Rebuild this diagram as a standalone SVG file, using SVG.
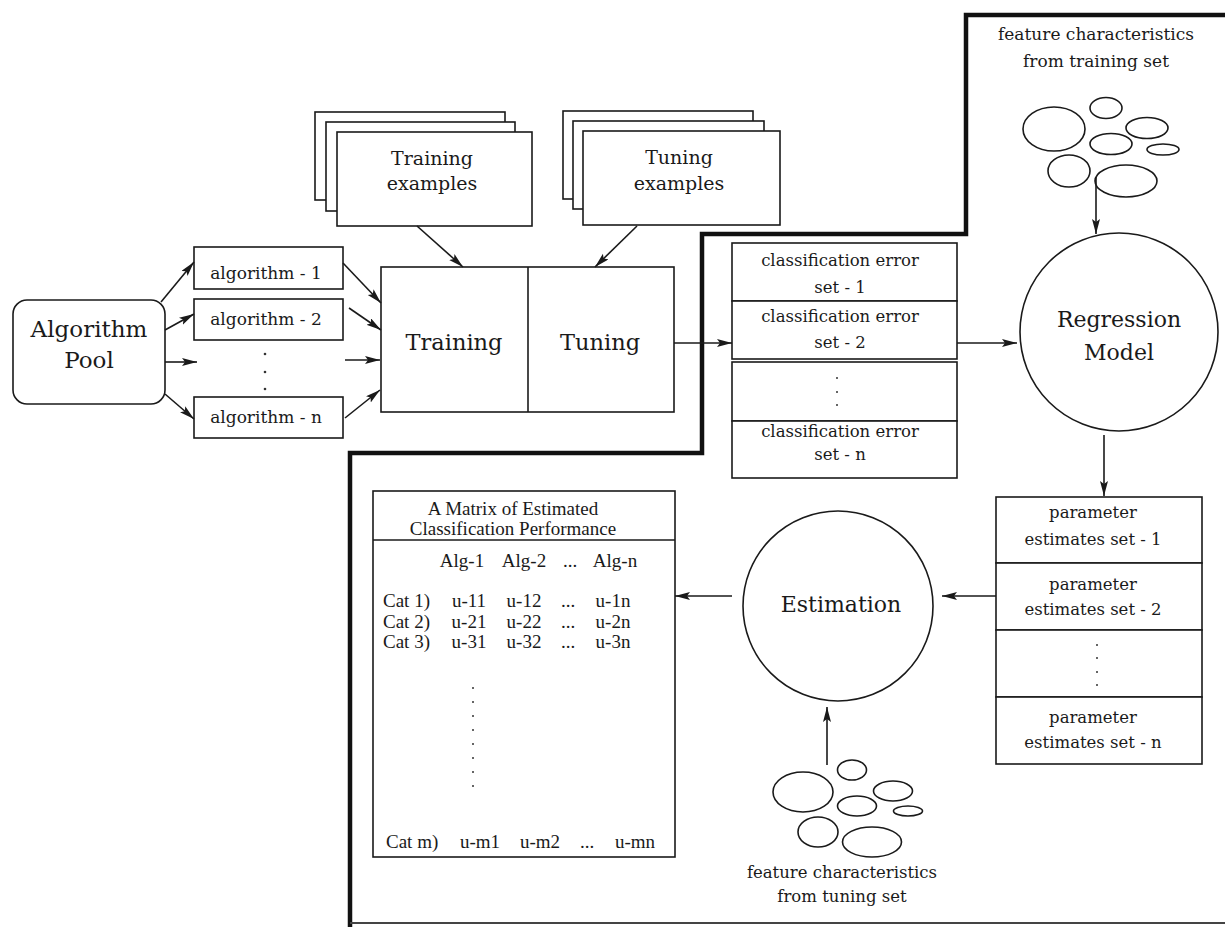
<svg xmlns="http://www.w3.org/2000/svg" width="1225" height="927" viewBox="0 0 1225 927">
<style>
.bx{fill:#fff;stroke:#1a1a1a;stroke-width:1.6}
.ln{fill:none;stroke:#1a1a1a;stroke-width:1.6}
.el{fill:none;stroke:#1a1a1a;stroke-width:1.6}
.cn{fill:none;stroke:#1a1a1a;stroke-width:1.6;marker-end:url(#ah)}
.thick{fill:none;stroke:#111;stroke-width:4.5;stroke-linejoin:miter}
.t{font-family:"DejaVu Serif","Liberation Serif",serif;fill:#1a1a1a;text-anchor:middle}
.m{font-family:"Liberation Serif","Times New Roman",serif;fill:#1a1a1a;font-size:19px}
.mc{text-anchor:middle}
.dot{fill:#333}
</style>
<defs>
<marker id="ah" markerUnits="userSpaceOnUse" markerWidth="16" markerHeight="10" refX="15" refY="4" orient="auto">
<path d="M0,0 L15,4 L0,8 L3,4 z" fill="#1a1a1a"/>
</marker>
</defs>
<rect width="1225" height="927" fill="#fff"/>

<g id="frame">
<path class="thick" d="M1225,15 H966 V234 H702 V453 H350 V927"/>
<line x1="350" y1="923" x2="1225" y2="923" stroke="#444" stroke-width="2"/>
</g>

<g id="algorithm-pool">
<rect class="bx" x="13" y="300" width="152" height="104" rx="14"/>
<text class="t" x="89" y="337" font-size="23">Algorithm</text>
<text class="t" x="89" y="368" font-size="23">Pool</text>
</g>

<g id="alg-1">
<rect class="bx" x="194" y="247" width="149" height="42"/>
<text class="t" x="266" y="279" font-size="17">algorithm - 1</text>
</g>
<g id="alg-2">
<rect class="bx" x="194" y="299" width="149" height="41"/>
<text class="t" x="266" y="325" font-size="17">algorithm - 2</text>
</g>
<g id="alg-dots">
<circle class="dot" cx="265" cy="354" r="1.3"/>
<circle class="dot" cx="265" cy="372" r="1.3"/>
<circle class="dot" cx="265" cy="389" r="1.3"/>
</g>
<g id="alg-n">
<rect class="bx" x="194" y="397" width="149" height="41"/>
<text class="t" x="266" y="423" font-size="17">algorithm - n</text>
</g>

<g id="training-examples">
<rect class="bx" x="315" y="112" width="190" height="88"/>
<rect class="bx" x="326" y="122" width="189" height="89"/>
<rect class="bx" x="337" y="132" width="195" height="94"/>
<text class="t" x="432" y="165" font-size="19">Training</text>
<text class="t" x="432" y="190" font-size="19">examples</text>
</g>

<g id="tuning-examples">
<rect class="bx" x="563" y="111" width="190" height="88"/>
<rect class="bx" x="573" y="121" width="191" height="88"/>
<rect class="bx" x="583" y="131" width="197" height="94"/>
<text class="t" x="679" y="164" font-size="19">Tuning</text>
<text class="t" x="679" y="190" font-size="19">examples</text>
</g>

<g id="training-tuning">
<rect class="bx" x="381" y="267" width="293" height="145"/>
<line class="ln" x1="528" y1="267" x2="528" y2="412"/>
<text class="t" x="454" y="350" font-size="22.5">Training</text>
<text class="t" x="600" y="350" font-size="22.5">Tuning</text>
</g>

<g id="classification-errors">
<rect class="bx" x="732" y="243" width="225" height="58"/>
<rect class="bx" x="732" y="301" width="225" height="58"/>
<rect class="bx" x="732" y="362" width="225" height="59"/>
<rect class="bx" x="732" y="421" width="225" height="57"/>
<text class="t" x="840" y="266" font-size="16.5">classification error</text>
<text class="t" x="840" y="293" font-size="16.5">set - 1</text>
<text class="t" x="840" y="322" font-size="16.5">classification error</text>
<text class="t" x="840" y="348" font-size="16.5">set - 2</text>
<circle class="dot" cx="837" cy="378" r="1"/>
<circle class="dot" cx="837" cy="392" r="1"/>
<circle class="dot" cx="837" cy="405" r="1"/>
<text class="t" x="840" y="437" font-size="16.5">classification error</text>
<text class="t" x="840" y="460" font-size="16.5">set - n</text>
</g>

<g id="training-features">
<text class="t" x="1096" y="40" font-size="17">feature characteristics</text>
<text class="t" x="1096" y="67" font-size="17">from training set</text>
<ellipse class="el" cx="1054" cy="129" rx="31" ry="22"/>
<ellipse class="el" cx="1106" cy="108" rx="16" ry="10.5"/>
<ellipse class="el" cx="1147" cy="128" rx="21" ry="10.5"/>
<ellipse class="el" cx="1111" cy="144" rx="21" ry="10.5"/>
<ellipse class="el" cx="1163" cy="149.5" rx="16" ry="5.5"/>
<ellipse class="el" cx="1069" cy="171" rx="21" ry="16"/>
<ellipse class="el" cx="1126" cy="181" rx="31" ry="16"/>
</g>

<g id="regression-model">
<circle class="bx" cx="1119" cy="332" r="99"/>
<text class="t" x="1119" y="327" font-size="22">Regression</text>
<text class="t" x="1119" y="360" font-size="22">Model</text>
</g>

<g id="parameter-estimates">
<rect class="bx" x="996" y="497" width="206" height="66"/>
<rect class="bx" x="996" y="563" width="206" height="67"/>
<rect class="bx" x="996" y="630" width="206" height="67"/>
<rect class="bx" x="996" y="697" width="206" height="67"/>
<text class="t" x="1093" y="518" font-size="16.5">parameter</text>
<text class="t" x="1093" y="545" font-size="16.5">estimates set - 1</text>
<text class="t" x="1093" y="590" font-size="16.5">parameter</text>
<text class="t" x="1093" y="615" font-size="16.5">estimates set - 2</text>
<circle class="dot" cx="1097" cy="645" r="1"/>
<circle class="dot" cx="1097" cy="658" r="1"/>
<circle class="dot" cx="1097" cy="672" r="1"/>
<circle class="dot" cx="1097" cy="685" r="1"/>
<text class="t" x="1093" y="723" font-size="16.5">parameter</text>
<text class="t" x="1093" y="748" font-size="16.5">estimates set - n</text>
</g>

<g id="estimation">
<circle class="bx" cx="838" cy="606" r="95"/>
<text class="t" x="841" y="612" font-size="22">Estimation</text>
</g>

<g id="tuning-features">
<ellipse class="el" cx="803" cy="792" rx="30" ry="20"/>
<ellipse class="el" cx="852" cy="770" rx="14.5" ry="10"/>
<ellipse class="el" cx="893" cy="791" rx="19.5" ry="10"/>
<ellipse class="el" cx="857" cy="806" rx="19.5" ry="10"/>
<ellipse class="el" cx="908" cy="811" rx="14.5" ry="5"/>
<ellipse class="el" cx="818" cy="832" rx="20" ry="15"/>
<ellipse class="el" cx="872" cy="842" rx="29.5" ry="15"/>
<text class="t" x="842" y="878" font-size="16.5">feature characteristics</text>
<text class="t" x="842" y="902" font-size="16.5">from tuning set</text>
</g>

<g id="matrix">
<rect class="bx" x="373" y="491" width="302" height="366"/>
<line class="ln" x1="373" y1="540" x2="675" y2="540"/>
<text class="m mc" x="513" y="515">A Matrix of Estimated</text>
<text class="m mc" x="513" y="535">Classification Performance</text>
<text class="m mc" x="462" y="567">Alg-1</text>
<text class="m mc" x="524" y="567">Alg-2</text>
<text class="m mc" x="570" y="567">...</text>
<text class="m mc" x="615" y="567">Alg-n</text>
<text class="m" x="383" y="607">Cat 1)</text>
<text class="m mc" x="469" y="607">u-11</text>
<text class="m mc" x="524" y="607">u-12</text>
<text class="m mc" x="568" y="607">...</text>
<text class="m mc" x="613" y="607">u-1n</text>
<text class="m" x="383" y="628">Cat 2)</text>
<text class="m mc" x="469" y="628">u-21</text>
<text class="m mc" x="524" y="628">u-22</text>
<text class="m mc" x="568" y="628">...</text>
<text class="m mc" x="613" y="628">u-2n</text>
<text class="m" x="383" y="648">Cat 3)</text>
<text class="m mc" x="469" y="648">u-31</text>
<text class="m mc" x="524" y="648">u-32</text>
<text class="m mc" x="568" y="648">...</text>
<text class="m mc" x="613" y="648">u-3n</text>
<circle class="dot" cx="473" cy="688" r="1"/>
<circle class="dot" cx="473" cy="702" r="1"/>
<circle class="dot" cx="473" cy="716" r="1"/>
<circle class="dot" cx="473" cy="730" r="1"/>
<circle class="dot" cx="473" cy="744" r="1"/>
<circle class="dot" cx="473" cy="758" r="1"/>
<circle class="dot" cx="473" cy="772" r="1"/>
<circle class="dot" cx="473" cy="786" r="1"/>
<text class="m" x="386" y="848">Cat m)</text>
<text class="m mc" x="480" y="848">u-m1</text>
<text class="m mc" x="540" y="848">u-m2</text>
<text class="m mc" x="587" y="848">...</text>
<text class="m mc" x="635" y="848">u-mn</text>
</g>

<g id="connectors">
<line class="cn" x1="161" y1="302" x2="194" y2="262"/>
<line class="cn" x1="165" y1="330" x2="194" y2="314"/>
<line class="cn" x1="165" y1="362" x2="197" y2="362"/>
<line class="cn" x1="165" y1="394" x2="194" y2="419"/>
<line class="cn" x1="343" y1="263" x2="381" y2="303"/>
<line class="cn" x1="349" y1="308" x2="381" y2="330"/>
<line class="cn" x1="345" y1="360" x2="380" y2="360"/>
<line class="cn" x1="345" y1="418" x2="380" y2="390"/>
<line class="cn" x1="417" y1="226" x2="463" y2="267"/>
<line class="cn" x1="637" y1="226" x2="595" y2="267"/>
<line class="cn" x1="674" y1="343" x2="732" y2="343"/>
<line class="cn" x1="957" y1="343" x2="1017" y2="343"/>
<line class="cn" x1="1096" y1="177" x2="1096" y2="234"/>
<line class="cn" x1="1104" y1="435" x2="1104" y2="496"/>
<line class="cn" x1="996" y1="596" x2="942" y2="596"/>
<line class="cn" x1="732" y1="596" x2="675" y2="596"/>
<line class="cn" x1="827" y1="765" x2="827" y2="707"/>
</g>
</svg>
